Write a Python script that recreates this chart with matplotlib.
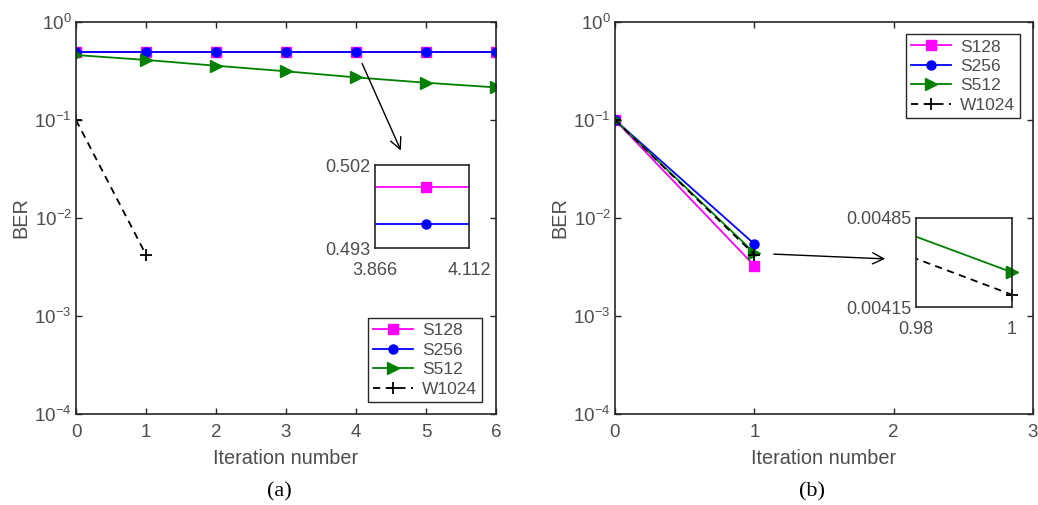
import matplotlib.pyplot as plt
import matplotlib.ticker as mticker

plt.rcParams['font.family'] = ['Liberation Sans', 'DejaVu Sans']
plt.rcParams['mathtext.default'] = 'regular'
plt.rcParams['font.size'] = 12

# panel (a)
iters_a = [0, 1, 2, 3, 4, 5, 6]
s128_a = [0.4996, 0.4996, 0.4996, 0.4996, 0.4996, 0.4996, 0.4996]
s256_a = [0.4956, 0.4956, 0.4956, 0.4956, 0.4956, 0.4956, 0.4956]
s512_a = [0.46, 0.41, 0.358, 0.314, 0.272, 0.240, 0.215]
w1024_iters_a = [0, 1]
w1024_a = [0.1, 0.00422]

# panel (b)
iters_b = [0, 1]
s128_b = [0.1, 0.00326]
s256_b = [0.1, 0.00543]
s512_b = [0.1, 0.00441]
w1024_b = [0.1, 0.00424]

labels = ['S128', 'S256', 'S512', 'W1024']

text_col = '#4d4d4d'
spine_col = '#262626'
W, H = 1038, 505
TICK_FS = 13.5


def style_axes(ax, ticks_top=True):
    for s in ax.spines.values():
        s.set_color(spine_col)
        s.set_linewidth(1.2)
    ax.tick_params(which='both', direction='in', colors=spine_col, labelcolor=text_col,
                   top=ticks_top, right=ticks_top, length=4, width=1.0, labelsize=TICK_FS)
    ax.tick_params(which='minor', length=0)


def plot_series(ax, x_main, x_w, d128, d256, d512, dw):
    ax.plot(x_main, d128, color='#ff00ff', marker='s', ms=6.5, lw=1.3, label=labels[0])
    ax.plot(x_main, d256, color='#0000ff', marker='o', ms=6.5, lw=1.3, label=labels[1])
    ax.plot(x_main, d512, color='#008000', marker='>', ms=9, lw=1.3, label=labels[2])
    ax.plot(x_w, dw, color='black', marker='+', ms=9, mew=1.3, lw=1.3,
            ls=(0, (4, 3)), label=labels[3])


fig = plt.figure(figsize=(W / 100, H / 100), dpi=100)

def px_axes(x0, y0, x1, y1):
    return fig.add_axes([x0 / W, 1 - y1 / H, (x1 - x0) / W, (y1 - y0) / H])


def main_axes(ax, xmax):
    ax.set_yscale('log')
    ax.set_ylim(1e-4, 1)
    ax.set_xlim(0, xmax)
    ax.set_xticks(range(xmax + 1))
    ax.yaxis.set_major_locator(mticker.LogLocator(base=10, numticks=10))
    ax.yaxis.set_minor_locator(mticker.NullLocator())
    style_axes(ax)
    ax.tick_params(axis='x', pad=7)
    ax.tick_params(axis='y', pad=3)
    ax.set_xlabel('Iteration number', color=text_col, fontsize=14.3, labelpad=6)
    ax.set_ylabel('BER', color=text_col, fontsize=14.3, labelpad=3)


def add_legend(ax, loc, anchor):
    leg = ax.legend(loc=loc, bbox_to_anchor=anchor, borderaxespad=0,
                    fancybox=False, edgecolor=spine_col, framealpha=1, handlelength=2.3,
                    labelspacing=0.25, borderpad=0.3, handletextpad=0.5, fontsize=12.5)
    leg.get_frame().set_linewidth(1.0)
    for t in leg.get_texts():
        t.set_color(text_col)


def inset_axes(ax, xlim, ylim, xlabels, ylabels):
    ax.set_yscale('log')
    ax.set_xlim(*xlim)
    ax.set_ylim(*ylim)
    ax.set_xticks(list(xlim))
    ax.set_xticklabels(xlabels)
    ax.yaxis.set_minor_locator(mticker.NullLocator())
    ax.yaxis.set_minor_formatter(mticker.NullFormatter())
    ax.set_yticks(list(ylim))
    ax.set_yticklabels(ylabels)
    style_axes(ax, ticks_top=False)
    ax.tick_params(length=0, labelsize=13)
    ax.tick_params(axis='x', pad=10)
    ax.tick_params(axis='y', pad=3)


# ---- (a) ----
ax1 = px_axes(76, 22, 496, 414)
plot_series(ax1, iters_a, w1024_iters_a, s128_a, s256_a, s512_a, w1024_a)
main_axes(ax1, 6)
add_legend(ax1, 'lower right', (0.967, 0.031))

ins1 = px_axes(375, 165, 469, 248)
plot_series(ins1, iters_a, w1024_iters_a, s128_a, s256_a, s512_a, w1024_a)
inset_axes(ins1, (3.866, 4.112), (0.493, 0.502), ['3.866', '4.112'], ['0.493', '0.502'])

# ---- (b) ----
ax2 = px_axes(615, 22, 1033, 414)
plot_series(ax2, iters_b, iters_b, s128_b, s256_b, s512_b, w1024_b)
main_axes(ax2, 3)
add_legend(ax2, 'upper right', (0.969, 0.969))

ins2 = px_axes(916, 218, 1012, 307)
plot_series(ins2, iters_b, iters_b, s128_b, s256_b, s512_b, w1024_b)
# end markers poke out of the zoom box
ins2.plot(iters_b[1:], s512_b[1:], color='#008000', marker='>', ms=9, ls='none', clip_on=False)
ins2.plot(iters_b[1:], w1024_b[1:], color='black', marker='+', ms=9, mew=1.3, ls='none', clip_on=False)
inset_axes(ins2, (0.98, 1), (0.00415, 0.00485), ['0.98', '1'], ['0.00415', '0.00485'])

# arrows
arrow_kw = dict(arrowstyle='->', color='black', lw=1.0, mutation_scale=20)
fig.add_artist(plt.Annotation('', xy=(402 / W, 1 - 153 / H), xytext=(361 / W, 1 - 61 / H),
                              xycoords='figure fraction', textcoords='figure fraction',
                              arrowprops=arrow_kw))
fig.add_artist(plt.Annotation('', xy=(888 / W, 1 - 259 / H), xytext=(771 / W, 1 - 254 / H),
                              xycoords='figure fraction', textcoords='figure fraction',
                              arrowprops=arrow_kw))

# captions
fig.text(279 / W, 1 - 492 / H, '(a)', ha='center', va='center',
         family='Liberation Serif', fontsize=16, color='black')
fig.text(812 / W, 1 - 492 / H, '(b)', ha='center', va='center',
         family='Liberation Serif', fontsize=16, color='black')

fig.savefig('out.png', dpi=100)
